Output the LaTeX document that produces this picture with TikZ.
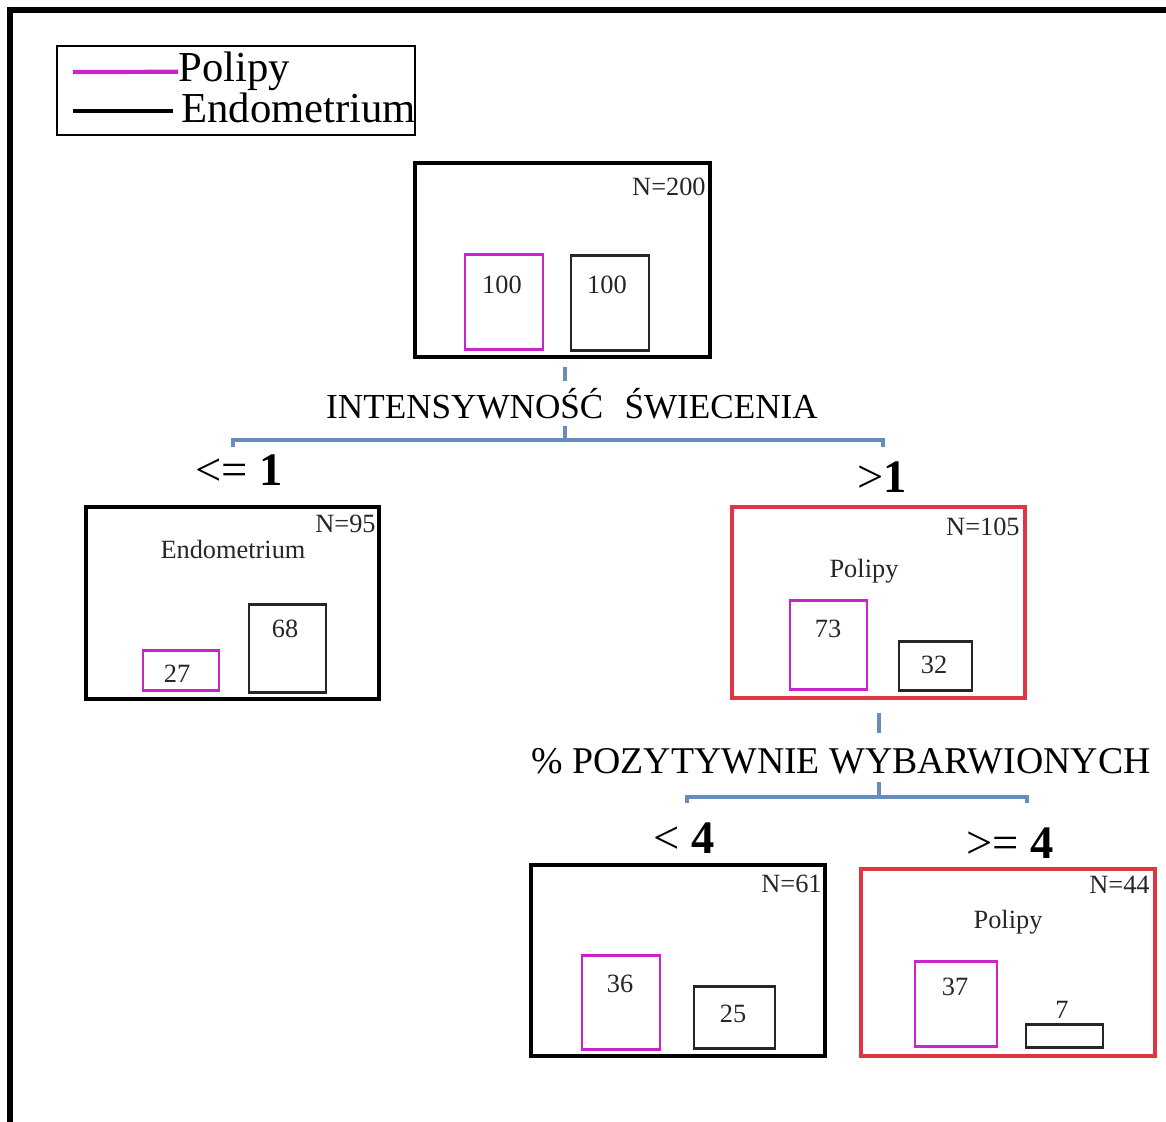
\documentclass[tikz,border=0pt]{standalone}
\usepackage{fontspec}
\setmainfont{Liberation Serif}
\usetikzlibrary{calc}
\definecolor{polmag}{RGB}{204,34,204}
\definecolor{leafred}{RGB}{222,55,65}
\definecolor{splitblue}{RGB}{104,140,190}
\tikzset{
    base/.style={inner sep=0pt, anchor=base, text=black!85, font=\fontsize{15pt}{18pt}\selectfont},
    leaf/.style={rectangle, draw=black, line width=2pt, inner sep=0pt},
    polyleaf/.style={leaf, draw=leafred},
    polbar/.style={rectangle, anchor=south, inner sep=0pt, draw=polmag, line width=1.6pt},
    endbar/.style={polbar, draw=black!85},
    cond/.style={inner sep=0pt, anchor=base west, font=\fontsize{26.5pt}{30pt}\selectfont},
    question/.style={inner sep=0pt, anchor=base},
    split/.style={draw=splitblue, line width=2.2pt},
    legtext/.style={inner sep=0pt, anchor=base west, font=\fontsize{24.3pt}{28pt}\selectfont},
    legline/.style={line width=2.4pt},
    frame/.style={line width=3.2pt, draw=black}
}

\begin{document}
\begin{tikzpicture}[x=0.02cm, y=-0.02cm]
        \useasboundingbox (0,0) rectangle (1166,1122);
        \draw [frame] (10,1122) -- (10,10) -- (1166,10);

        % Legend
        \node (legbox) [rectangle, draw=black, line width=1.2pt, minimum width=7.16cm, minimum height=1.78cm] at (236,90.5) {};
        \node (legpol) [legtext] at (178,82) {Polipy};
        \node (legendo) [legtext] at (181,123) {Endometrium};
        \coordinate (lp) at (73,72);
        \coordinate (le) at (73,111);
        \draw [legline, draw=polmag] (lp) -- (legpol.west);
        \draw [legline, draw=black, shorten >=0.16cm] (le) -- (le -| legendo.west);

        % Root
        \node (root) [leaf, minimum width=5.9cm, minimum height=3.88cm] at (562.5,260) {};
        \node (rootn) [base, anchor=base east] at (706,195) {N=200};
        \node (rootpol) [polbar, minimum width=1.56cm, minimum height=1.9cm] at (504,351) {};
        \node (rootend) [endbar, minimum width=1.56cm, minimum height=1.9cm] at (610,352) {};
        \node (rootpoln) [base] at (502,293) {100};
        \node (rootendn) [base] at (607,293) {100};

        % Split 1
        \node (q1) [question, text height=0.74cm, text depth=0.16cm, font=\fontsize{20pt}{24pt}\selectfont] at (572,418) {INTENSYWNOŚĆ\hspace{0.6em}ŚWIECENIA};
        \coordinate (j1) at (565,440);
        \coordinate (t1l) at (233,447);
        \coordinate (t1r) at (883,447);
        \draw [split] (root.south -| j1) ++(0,8) -- (q1.north -| j1);
        \draw [split] (q1.south -| j1) -- (j1);
        \draw [split] (t1l) |- (j1) -| (t1r);
        \node (c1l) [cond] at (195,485) {<= \textbf{1}};
        \node (c1r) [cond] at (857,492) {>\textbf{1}};

        % Left leaf
        \node (lleaf) [leaf, minimum width=5.86cm, minimum height=3.84cm] at (232.5,603) {};
        \node (lleafn) [base, anchor=base east] at (376,532) {N=95};
        \node (lleafc) [base] at (233,558) {Endometrium};
        \node (lleafpol) [polbar, minimum width=1.52cm, minimum height=0.8cm] at (181,692) {};
        \node (lleafend) [endbar, minimum width=1.54cm, minimum height=1.76cm] at (287.5,694) {};
        \node (lleafpoln) [base] at (177,682) {27};
        \node (lleafendn) [base] at (285,637) {68};

        % Right node
        \node (rnode) [polyleaf, minimum width=5.86cm, minimum height=3.82cm] at (878.5,602.5) {};
        \node (rnoden) [base, anchor=base east] at (1020,535) {N=105};
        \node (rnodec) [base] at (864,577) {Polipy};
        \node (rnodepol) [polbar, minimum width=1.54cm, minimum height=1.78cm] at (828.5,691) {};
        \node (rnodeend) [endbar, minimum width=1.46cm, minimum height=0.98cm] at (935.5,692) {};
        \node (rnodepoln) [base] at (828,637) {73};
        \node (rnodeendn) [base] at (934,673) {32};

        % Split 2
        \node (q2) [question, text height=0.8cm, text depth=0.18cm, font=\fontsize{21.5pt}{26pt}\selectfont] at (841,773) {\% POZYTYWNIE WYBARWIONYCH};
        \coordinate (j2) at (879,797);
        \coordinate (t2l) at (687,803);
        \coordinate (t2r) at (1027,803);
        \draw [split] (rnode.south -| j2) ++(0,13) -- (q2.north -| j2);
        \draw [split] (q2.south -| j2) -- (j2);
        \draw [split] (t2l) |- (j2) -| (t2r);
        \node (c2l) [cond] at (653,853) {< \textbf{4}};
        \node (c2r) [cond] at (966,858) {>= \textbf{4}};

        % Bottom leaves
        \node (bleaf) [leaf, minimum width=5.88cm, minimum height=3.82cm] at (678,960.5) {};
        \node (bleafn) [base, anchor=base east] at (822,892) {N=61};
        \node (bleafpol) [polbar, minimum width=1.56cm, minimum height=1.88cm] at (621,1051) {};
        \node (bleafend) [endbar, minimum width=1.62cm, minimum height=1.24cm] at (734.5,1050) {};
        \node (bleafpoln) [base] at (620,992) {36};
        \node (bleafendn) [base] at (733,1022) {25};

        \node (cleaf) [polyleaf, minimum width=5.88cm, minimum height=3.74cm] at (1008,962.5) {};
        \node (cleafn) [base, anchor=base east] at (1150,893) {N=44};
        \node (cleafc) [base] at (1008,928) {Polipy};
        \node (cleafpol) [polbar, minimum width=1.64cm, minimum height=1.7cm] at (956,1048) {};
        \node (cleafend) [endbar, minimum width=1.54cm, minimum height=0.46cm] at (1064.5,1049) {};
        \node (cleafpoln) [base] at (955,995) {37};
        \node (cleafendn) [base] at (1062,1018) {7};
\end{tikzpicture}
\end{document}
